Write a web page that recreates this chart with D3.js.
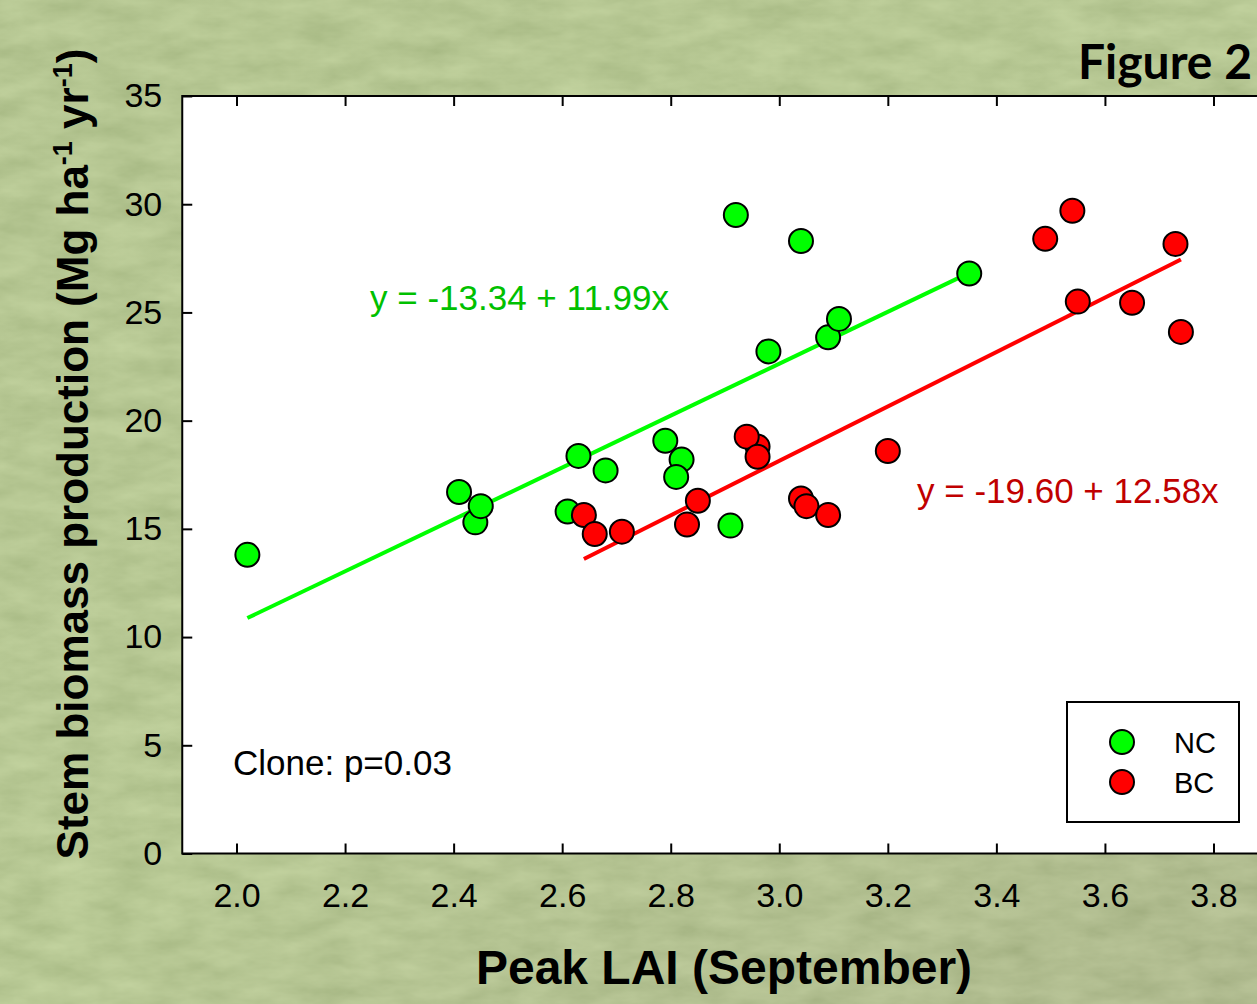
<!DOCTYPE html>
<html>
<head>
<meta charset="utf-8">
<script src="https://cdn.jsdelivr.net/npm/d3@7"></script>
<style>
  html, body { margin: 0; padding: 0; background: #a6b97c; overflow: hidden; }
  svg { display: block; }
  text { font-family: "Liberation Sans", Arial, sans-serif; }
</style>
</head>
<body>
<svg id="chart" width="1257" height="1004"></svg>
<script>
// Peak LAI (September) for each clone group
const ncLAI = [2.02, 2.41, 2.44, 2.45, 2.63, 2.61, 2.68, 2.79, 2.82, 2.81, 2.91, 2.92, 3.04, 2.98, 3.09, 3.11, 3.35];
// Stem biomass production (Mg ha-1 yr-1)
const ncBiomass = [13.8, 16.7, 15.3, 16.05, 18.37, 15.8, 17.7, 19.07, 18.2, 17.4, 15.15, 29.5, 28.3, 23.2, 23.85, 24.7, 26.8];

const bcLAI = [2.64, 2.66, 2.71, 2.83, 2.85, 2.96, 2.94, 2.96, 3.04, 3.05, 3.09, 3.20, 3.54, 3.49, 3.73, 3.55, 3.65, 3.74];
const bcBiomass = [15.64, 14.76, 14.87, 15.2, 16.3, 18.8, 19.26, 18.33, 16.4, 16.05, 15.64, 18.6, 29.7, 28.4, 28.16, 25.5, 25.45, 24.1];

// Fitted regressions: y = intercept + slope * x
const ncFit = { intercept: -13.34, slope: 11.99 };
const bcFit = { intercept: -19.60, slope: 12.58 };

const xTickValues = [2.0, 2.2, 2.4, 2.6, 2.8, 3.0, 3.2, 3.4, 3.6, 3.8];
const xTickLabels = ["2.0", "2.2", "2.4", "2.6", "2.8", "3.0", "3.2", "3.4", "3.6", "3.8"];
const yTickValues = [0, 5, 10, 15, 20, 25, 30, 35];

const groups = ["NC", "BC"];
const groupColors = { NC: "#00ff00", BC: "#ff0000" };
const equationColors = { NC: "#00c000", BC: "#c00000" };

const svg = d3.select("#chart");
const W = 1257, H = 1004;

// ---- grassy backdrop ----
const defs = svg.append("defs");
const grad = defs.append("linearGradient").attr("id", "bgGrad")
  .attr("x1", "0").attr("y1", "0").attr("x2", "1").attr("y2", "1");
grad.append("stop").attr("offset", "0%").attr("stop-color", "#a4b87b");
grad.append("stop").attr("offset", "50%").attr("stop-color", "#a8bc7f");
grad.append("stop").attr("offset", "100%").attr("stop-color", "#9ba676");

const grass = defs.append("filter").attr("id", "grass")
  .attr("x", 0).attr("y", 0).attr("width", "100%").attr("height", "100%");
grass.append("feTurbulence").attr("type", "fractalNoise")
  .attr("baseFrequency", "0.02 0.05").attr("numOctaves", 4).attr("seed", 11)
  .attr("result", "noise");
grass.append("feColorMatrix").attr("in", "noise").attr("type", "matrix")
  .attr("values", "0.6 0 0 0 0.36  0.6 0 0 0 0.44  0.5 0 0 0 0.25  0 0 0 0 0.35");

svg.append("rect").attr("width", W).attr("height", H).attr("fill", "url(#bgGrad)");
svg.append("rect").attr("width", W).attr("height", H).attr("filter", "url(#grass)");

// ---- scales ----
const margin = { left: 182.25, top: 96, right: 1267.75, bottom: 853.5 };
const x = d3.scaleLinear().domain([1.9, 3.9]).range([margin.left, margin.right]);
const y = d3.scaleLinear().domain([0, 35]).range([margin.bottom, margin.top]);

// plot panel
svg.append("rect")
  .attr("x", margin.left).attr("y", margin.top)
  .attr("width", margin.right - margin.left).attr("height", margin.bottom - margin.top)
  .attr("fill", "#ffffff");

// ---- axes (ticks point inward) ----
const tickFmt = (d) => xTickLabels[xTickValues.indexOf(d)];

const gBottom = svg.append("g").attr("transform", `translate(0,${margin.bottom})`)
  .call(d3.axisBottom(x).tickValues(xTickValues).tickFormat(tickFmt)
    .tickSizeInner(-10).tickSizeOuter(0).tickPadding(29));
const gTop = svg.append("g").attr("transform", `translate(0,${margin.top})`)
  .call(d3.axisTop(x).tickValues(xTickValues).tickFormat("")
    .tickSizeInner(-10).tickSizeOuter(0));
const gLeft = svg.append("g").attr("transform", `translate(${margin.left},0)`)
  .call(d3.axisLeft(y).tickValues(yTickValues).tickFormat(d3.format("d"))
    .tickSizeInner(-10).tickSizeOuter(0).tickPadding(20));
const gRight = svg.append("g").attr("transform", `translate(${margin.right},0)`)
  .call(d3.axisRight(y).tickValues(yTickValues).tickFormat("")
    .tickSizeInner(-10).tickSizeOuter(0));

[gBottom, gTop, gLeft, gRight].forEach(g => {
  g.select(".domain").remove();
  g.selectAll(".tick line").attr("stroke", "#000").attr("stroke-width", 2);
  g.selectAll(".tick text").attr("fill", "#000")
    .style("font-family", "'Liberation Sans', Arial, sans-serif")
    .style("font-size", "34px");
});

// frame
svg.append("rect")
  .attr("x", margin.left).attr("y", margin.top)
  .attr("width", margin.right - margin.left).attr("height", margin.bottom - margin.top)
  .attr("fill", "none").attr("stroke", "#000").attr("stroke-width", 2);

// ---- regression lines over each group's LAI range ----
const fitLine = (fit, xs) => {
  const [lo, hi] = d3.extent(xs);
  return [[lo, fit.intercept + fit.slope * lo], [hi, fit.intercept + fit.slope * hi]];
};
const line = d3.line().x(d => x(d[0])).y(d => y(d[1]));

svg.append("path").datum(fitLine(ncFit, ncLAI))
  .attr("d", line).attr("fill", "none").attr("stroke", groupColors.NC).attr("stroke-width", 4);
svg.append("path").datum(fitLine(bcFit, bcLAI))
  .attr("d", line).attr("fill", "none").attr("stroke", groupColors.BC).attr("stroke-width", 4);

// ---- points ----
const ncData = ncLAI.map((v, i) => ({ lai: v, bio: ncBiomass[i] }));
const bcData = bcLAI.map((v, i) => ({ lai: v, bio: bcBiomass[i] }));

svg.append("g").selectAll("circle").data(ncData).join("circle")
  .attr("cx", d => x(d.lai)).attr("cy", d => y(d.bio)).attr("r", 12)
  .attr("fill", groupColors.NC).attr("stroke", "#000").attr("stroke-width", 2);
svg.append("g").selectAll("circle").data(bcData).join("circle")
  .attr("cx", d => x(d.lai)).attr("cy", d => y(d.bio)).attr("r", 12)
  .attr("fill", groupColors.BC).attr("stroke", "#000").attr("stroke-width", 2);

// ---- equations and annotation ----
const eqText = (fit) => `y = ${fit.intercept.toFixed(2)} + ${fit.slope.toFixed(2)}x`;
svg.append("text").attr("x", 370).attr("y", 310)
  .attr("fill", equationColors.NC).style("font-size", "35px").text(eqText(ncFit));
svg.append("text").attr("x", 917).attr("y", 503)
  .attr("fill", equationColors.BC).style("font-size", "35px").text(eqText(bcFit));
svg.append("text").attr("x", 233).attr("y", 775)
  .attr("fill", "#000").style("font-size", "35px").text("Clone: p=0.03");

// ---- legend ----
const legend = svg.append("g");
legend.append("rect").attr("x", 1067).attr("y", 702).attr("width", 172).attr("height", 120)
  .attr("fill", "#fff").attr("stroke", "#000").attr("stroke-width", 2);
groups.forEach((g, i) => {
  legend.append("circle").attr("cx", 1122).attr("cy", 742 + i * 40).attr("r", 12)
    .attr("fill", groupColors[g]).attr("stroke", "#000").attr("stroke-width", 2);
  legend.append("text").attr("x", 1174).attr("y", 753 + i * 40)
    .attr("fill", "#000").style("font-size", "29px").text(g);
});

// ---- axis titles ----
svg.append("text").attr("x", 724).attr("y", 984).attr("text-anchor", "middle")
  .style("font-size", "48px").style("font-weight", "bold").attr("fill", "#000")
  .text("Peak LAI (September)");

const yTitle = svg.append("text")
  .attr("transform", "translate(88,454) rotate(-90)")
  .attr("text-anchor", "middle")
  .style("font-size", "44px").style("font-weight", "bold").attr("fill", "#000");
yTitle.append("tspan").text("Stem biomass production (Mg ha");
yTitle.append("tspan").attr("dy", -16).style("font-size", "27px").text("-1");
yTitle.append("tspan").attr("dy", 16).text(" yr");
yTitle.append("tspan").attr("dy", -16).style("font-size", "27px").text("-1");
yTitle.append("tspan").attr("dy", 16).text(")");

// ---- figure label ----
svg.append("text").attr("x", 1252).attr("y", 79).attr("text-anchor", "end")
  .style("font-family", "Lato, 'Open Sans', sans-serif")
  .style("font-size", "48px").style("font-weight", "bold").attr("fill", "#000")
  .text("Figure 2");
</script>
</body>
</html>
